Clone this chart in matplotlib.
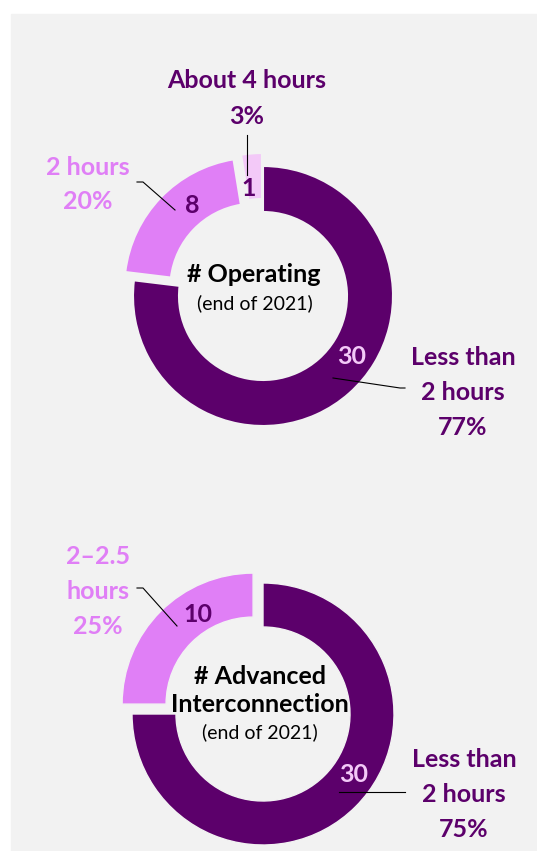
import matplotlib.pyplot as plt
from matplotlib.patches import Rectangle

# charging duration data
op_counts = [30, 8, 1]
op_pcts = ["77%", "20%", "3%"]
op_names = ["Less than\n2 hours", "2 hours", "About 4 hours"]

ai_counts = [30, 10]
ai_pcts = ["75%", "25%"]
ai_names = ["Less than\n2 hours", "2\u20132.5\nhours"]

W, H = 537, 851
DARK = "#5c006b"
PINK = "#e07ff6"
LIGHT = "#f3c9f8"
BG = "#f2f2f2"
FONT = "Lato"

plt.rcParams["font.family"] = [FONT, "DejaVu Sans"]

fig = plt.figure(figsize=(W / 100, H / 100), dpi=100)
ax = fig.add_axes([0, 0, 1, 1])
ax.add_patch(Rectangle((11, 0), W - 11, H - 14, color=BG, zorder=0))


def txt(x, yc, s, color, size=18, weight="bold"):
    # yc is the pixel row (from top) of the middle of the cap height
    cap = 0.72 * size * 100 / 72
    ax.text(x, H - yc - cap / 2, s, color=color, fontsize=size,
            fontweight=weight, ha="center", va="baseline", zorder=5)


def block(x, yc, text, color, step=35):
    for i, line in enumerate(text.split("\n")):
        txt(x, yc + i * step, line, color)


def leader(xs, ys):
    ax.plot(xs, [H - y for y in ys], color="black", lw=0.8, zorder=4)


# operating donut (explode given in pixels, pie uses data units)
ax.pie(op_counts, explode=[0, 12, 13], startangle=90, counterclock=False,
       colors=[DARK, PINK, LIGHT], radius=130, center=(263, H - 296),
       wedgeprops=dict(width=46, edgecolor=BG, linewidth=1.5))

block(463, 356, op_names[0] + "\n" + op_pcts[0], DARK)
block(88, 166, op_names[1] + "\n" + op_pcts[1], PINK, step=34)
block(247, 79, op_names[2] + "\n" + op_pcts[2], DARK, step=36)

txt(352, 355, str(op_counts[0]), LIGHT)
txt(192, 204, str(op_counts[1]), DARK)
txt(249, 187, str(op_counts[2]), DARK)

leader([333, 400, 405], [378, 388, 388])
leader([137, 143, 175], [182, 182, 210])
leader([247.3, 247.3], [135, 175])

txt(254, 273, "# Operating", "black")
txt(255, 302, "(end of 2021)", "black", size=14, weight="normal")

# advanced interconnection donut
ax.pie(ai_counts, explode=[0, 14], startangle=90, counterclock=False,
       colors=[DARK, PINK], radius=131, center=(263, H - 714),
       wedgeprops=dict(width=44, edgecolor=BG, linewidth=1.0))

block(464, 758, ai_names[0] + "\n" + ai_pcts[0], DARK)
block(98, 555, ai_names[1] + "\n" + ai_pcts[1], PINK)

txt(354, 773, str(ai_counts[0]), LIGHT)
txt(198, 613, str(ai_counts[1]), DARK)

leader([339, 405], [792, 792])
leader([137, 143, 177], [588, 588, 626])

txt(260, 675, "# Advanced", "black")
txt(260, 703, "Interconnection", "black")
txt(260, 731, "(end of 2021)", "black", size=14, weight="normal")

ax.set_xlim(0, W)
ax.set_ylim(0, H)
ax.set_aspect("equal")
ax.axis("off")

fig.savefig("out.png", dpi=100, facecolor="white")
